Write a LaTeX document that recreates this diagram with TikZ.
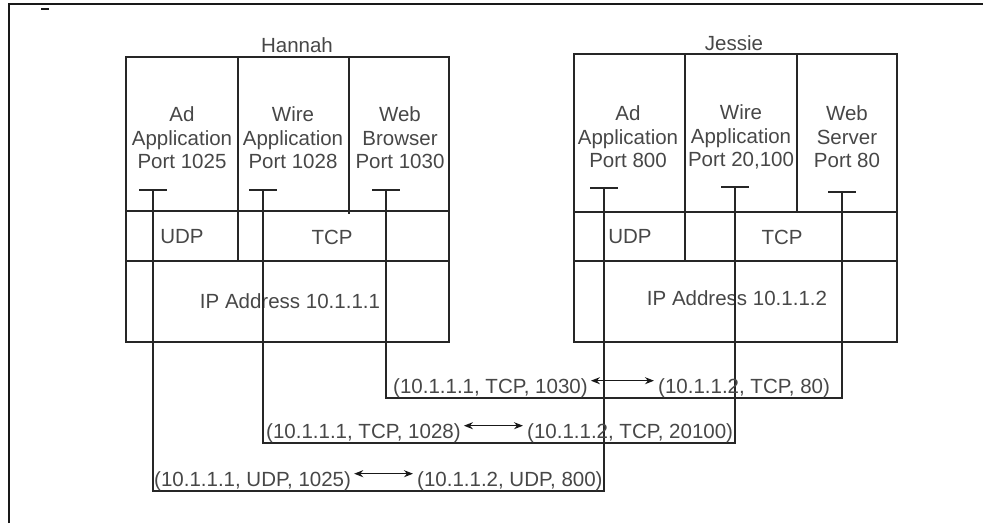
\documentclass[tikz,border=0pt]{standalone}
\usepackage{fontspec}
\setmainfont{Liberation Sans}
\usetikzlibrary{arrows.meta}
\begin{document}
\begin{tikzpicture}[x=1pt,y=-1pt,
  box/.style={draw=black!85, line width=1.8pt},
  wire/.style={draw=black!85, line width=1.8pt},
  lbl/.style={text=black!72, font=\fontsize{20.5}{23.5}\selectfont, inner sep=0pt},
  apptxt/.style={lbl, align=center},
  addr/.style={lbl, anchor=base west},
  dbl/.style={draw=black!90, line width=1.4pt, {Stealth[length=9pt,width=7pt]}-{Stealth[length=9pt,width=7pt]}, shorten <=3pt, shorten >=4pt}]
\useasboundingbox (0,0) rectangle (983,525);
% outer frame
\draw[line width=2.4pt, black!90] (9,523) -- (9,4) -- (983,4);
\draw[line width=2.4pt, black!90] (41,9) -- (49,9);

% Hannah
\node[lbl] (hname) at (297,45) {Hannah};
\draw[box] (126,57) rectangle (449,342);
\draw[box] (126,211) -- (449,211);
\draw[box] (126,261) -- (449,261);
\draw[box] (238,57) -- (238,261);
\draw[box] (349,57) -- (349,214);
\node[apptxt] (ha1) at (182,138) {Ad\\Application\\Port 1025};
\node[apptxt] (ha2) at (293,138) {Wire\\Application\\Port 1028};
\node[apptxt] (ha3) at (400,138) {Web\\Browser\\Port 1030};
\node[lbl] (hudp) at (182,237) {UDP};
\node[lbl] (htcp) at (332,237) {TCP};
\node[lbl] (hip) at (290,301) {IP Address 10.1.1.1};

% Jessie
\node[lbl] (jname) at (734,43) {Jessie};
\draw[box] (574,54) rectangle (897,342);
\draw[box] (574,212) -- (897,212);
\draw[box] (574,261) -- (897,261);
\draw[box] (685,54) -- (685,261);
\draw[box] (797,54) -- (797,212);
\node[apptxt] (ja1) at (628,137) {Ad\\Application\\Port 800};
\node[apptxt] (ja2) at (741,137) {Wire\\Application\\Port 20,100};
\node[apptxt] (ja3) at (847,137) {Web\\Server\\Port 80};
\node[lbl] (judp) at (630,237) {UDP};
\node[lbl] (jtcp) at (782,237) {TCP};
\node[lbl] (jip) at (737,298) {IP Address 10.1.1.2};

% ports (T bars)
\coordinate (hp1) at (153,190);
\coordinate (hp2) at (263,190);
\coordinate (hp3) at (386,190);
\coordinate (jp1) at (604,188);
\coordinate (jp2) at (735,187);
\coordinate (jp3) at (842,192);
\foreach \p in {hp1,hp2,hp3,jp1,jp2,jp3}
  \draw[wire] ([xshift=-14pt]\p) -- ([xshift=14pt]\p);

% connections
\coordinate (b1) at (604,491);
\coordinate (b2) at (735,443);
\coordinate (b3) at (842,398);
\draw[wire] (hp1) |- (b1) -- (jp1);
\draw[wire] (hp2) |- (b2) -- (jp2);
\draw[wire] (hp3) |- (b3) -- (jp3);

% socket labels
\node[addr] (u1) at (154,486) {(10.1.1.1, UDP, 1025)};
\node[addr] (u2) at (417,486) {(10.1.1.2, UDP, 800)};
\draw[dbl] (u1.east) ++(0,-7) coordinate (u1e) -- (u1e -| u2.west);
\node[addr] (t1) at (266,438) {(10.1.1.1, TCP, 1028)};
\node[addr] (t2) at (527,438) {(10.1.1.2, TCP, 20100)};
\draw[dbl] (t1.east) ++(0,-7) coordinate (t1e) -- (t1e -| t2.west);
\node[addr] (w1) at (393,393) {(10.1.1.1, TCP, 1030)};
\node[addr] (w2) at (658,393) {(10.1.1.2, TCP, 80)};
\draw[dbl] (w1.east) ++(0,-7) coordinate (w1e) -- (w1e -| w2.west);
\end{tikzpicture}
\end{document}
